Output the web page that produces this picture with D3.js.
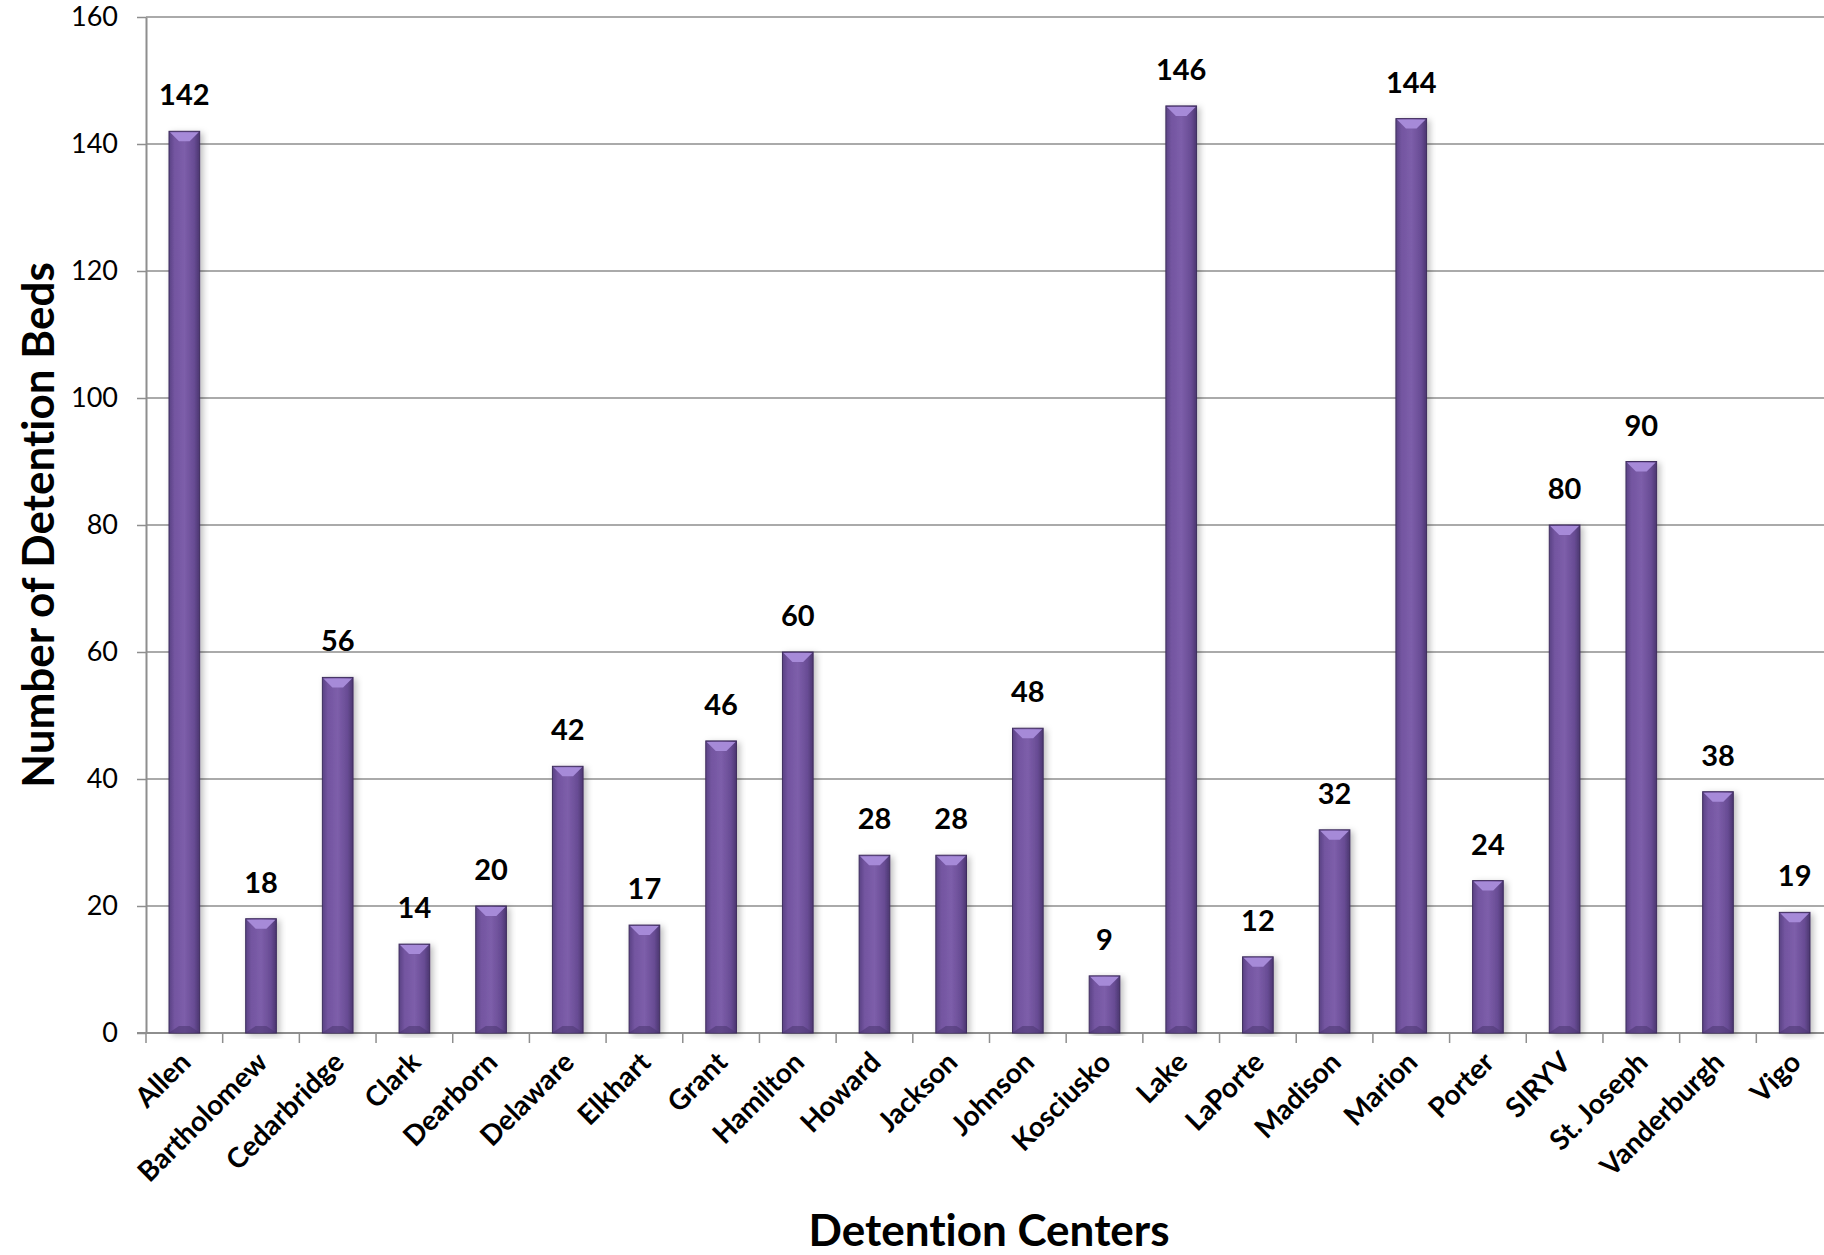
<!DOCTYPE html>
<html>
<head>
<meta charset="utf-8">
<script src="https://cdn.jsdelivr.net/npm/d3@7"></script>
<style>
  body { margin: 0; background: #fff; }
  text { font-family: Lato, 'Open Sans', sans-serif; fill: #000; font-variant-ligatures: none; }
</style>
</head>
<body>
<div id="container"></div>
<script>
/* CONSTANTS AND GLOBALS */
const width = 1824,
  height = 1255,
  margin = { top: 17, bottom: 222, left: 146, right: -9 }

/* DATA */
const centers = ['Allen', 'Bartholomew', 'Cedarbridge', 'Clark', 'Dearborn', 'Delaware',
  'Elkhart', 'Grant', 'Hamilton', 'Howard', 'Jackson', 'Johnson', 'Kosciusko', 'Lake',
  'LaPorte', 'Madison', 'Marion', 'Porter', 'SIRYV', 'St. Joseph', 'Vanderburgh', 'Vigo']
const beds = [142, 18, 56, 14, 20, 42, 17, 46, 60, 28, 28, 48, 9, 146, 12, 32, 144, 24, 80, 90, 38, 19]
const yTicks = [0, 20, 40, 60, 80, 100, 120, 140, 160]

const data = centers.map((c, i) => ({ name: c, value: beds[i] }))

// + SCALES
const xScale = d3.scaleBand()
  .domain(centers)
  .range([margin.left, width - margin.right])
  .paddingInner(0.6)
  .paddingOuter(0.3)

const yScale = d3.scaleLinear()
  .domain([0, 160])
  .range([height - margin.bottom, margin.top])

const svg = d3.select('#container')
  .append('svg')
  .attr('width', width)
  .attr('height', height)

// gradients for the bevelled bars
const defs = svg.append('defs')
const body = defs.append('linearGradient').attr('id', 'barBody')
  .attr('x1', '0%').attr('x2', '100%').attr('y1', '0%').attr('y2', '0%')
body.append('stop').attr('offset', '0%').attr('stop-color', '#5a4284')
body.append('stop').attr('offset', '18%').attr('stop-color', '#7355a0')
body.append('stop').attr('offset', '50%').attr('stop-color', '#7d5eaa')
body.append('stop').attr('offset', '82%').attr('stop-color', '#684c94')
body.append('stop').attr('offset', '100%').attr('stop-color', '#4b3670')

const shadow = defs.append('filter').attr('id', 'shadow')
  .attr('x', '-30%').attr('y', '-5%').attr('width', '160%').attr('height', '110%')
shadow.append('feDropShadow')
  .attr('dx', 3).attr('dy', 2).attr('stdDeviation', 3)
  .attr('flood-color', '#000').attr('flood-opacity', 0.25)

// + GRIDLINES
svg.append('g')
  .selectAll('line')
  .data(yTicks.filter(d => d > 0))
  .join('line')
  .attr('x1', margin.left)
  .attr('x2', width)
  .attr('y1', d => yScale(d))
  .attr('y2', d => yScale(d))
  .attr('stroke', '#8e8e8e')
  .attr('stroke-width', 1.5)

// + Y AXIS
const yAxis = svg.append('g')
  .attr('transform', `translate(${margin.left}, 0)`)
  .call(d3.axisLeft(yScale).tickValues(yTicks).tickSize(9).tickSizeOuter(0).tickPadding(19))
yAxis.select('.domain').attr('stroke', '#8e8e8e').attr('stroke-width', 2)
yAxis.selectAll('.tick line').attr('stroke', '#8e8e8e').attr('stroke-width', 1.5)
yAxis.selectAll('.tick text')
  .style('font-family', 'Lato, sans-serif')
  .style('font-size', '27px')
  .attr('fill', '#000')

// + X AXIS
const step = xScale.step()
const x0 = yScale(0)
svg.append('line')
  .attr('x1', margin.left - 9).attr('x2', width)
  .attr('y1', x0).attr('y2', x0)
  .attr('stroke', '#8e8e8e').attr('stroke-width', 2)

svg.append('g')
  .selectAll('line')
  .data(centers.concat(['__end']))
  .join('line')
  .attr('x1', (d, i) => margin.left + i * step)
  .attr('x2', (d, i) => margin.left + i * step)
  .attr('y1', x0)
  .attr('y2', x0 + 10)
  .attr('stroke', '#8e8e8e')
  .attr('stroke-width', 1.5)

// + BARS
const bar = svg.append('g')
  .selectAll('g.bar')
  .data(data)
  .join('g')
  .attr('class', 'bar')

bar.append('rect')
  .attr('x', d => xScale(d.name))
  .attr('y', d => yScale(d.value))
  .attr('width', xScale.bandwidth())
  .attr('height', d => yScale(0) - yScale(d.value))
  .attr('fill', 'url(#barBody)')
  .attr('stroke', '#3f2d5e')
  .attr('stroke-width', 1)
  .attr('filter', 'url(#shadow)')

// top bevel
const bev = 10
bar.append('path')
  .attr('d', d => {
    const x = xScale(d.name), w = xScale.bandwidth(), y = yScale(d.value)
    return `M${x + 1},${y + 1} L${x + w - 1},${y + 1} L${x + w - bev},${y + bev} L${x + bev},${y + bev} Z`
  })
  .attr('fill', '#a68ad8')

// bottom bevel
bar.append('path')
  .attr('d', d => {
    const x = xScale(d.name), w = xScale.bandwidth(), y = yScale(0)
    return `M${x + 1},${y - 1} L${x + w - 1},${y - 1} L${x + w - bev},${y - bev + 3} L${x + bev},${y - bev + 3} Z`
  })
  .attr('fill', '#4e3874')
  .attr('opacity', 0.6)

// + VALUE LABELS
svg.append('g')
  .selectAll('text')
  .data(data)
  .join('text')
  .attr('x', d => xScale(d.name) + xScale.bandwidth() / 2)
  .attr('y', d => yScale(d.value) - 26)
  .attr('text-anchor', 'middle')
  .style('font-size', '29px')
  .style('font-weight', 'bold')
  .text(d => d.value)

// + CATEGORY LABELS
svg.append('g')
  .selectAll('text')
  .data(data)
  .join('text')
  .attr('transform', d => `translate(${xScale(d.name) + xScale.bandwidth() / 2 + 8}, ${x0 + 31}) rotate(-45)`)
  .attr('text-anchor', 'end')
  .style('font-size', '28px')
  .style('font-weight', 'bold')
  .text(d => d.name)

// + AXIS TITLES
svg.append('text')
  .attr('transform', `translate(54, 525) rotate(-90)`)
  .attr('text-anchor', 'middle')
  .style('font-size', '44px')
  .style('font-weight', 'bold')
  .text('Number of Detention Beds')

svg.append('text')
  .attr('x', 989)
  .attr('y', 1246)
  .attr('text-anchor', 'middle')
  .style('font-size', '44px')
  .style('font-weight', 'bold')
  .text('Detention Centers')
</script>
</body>
</html>
